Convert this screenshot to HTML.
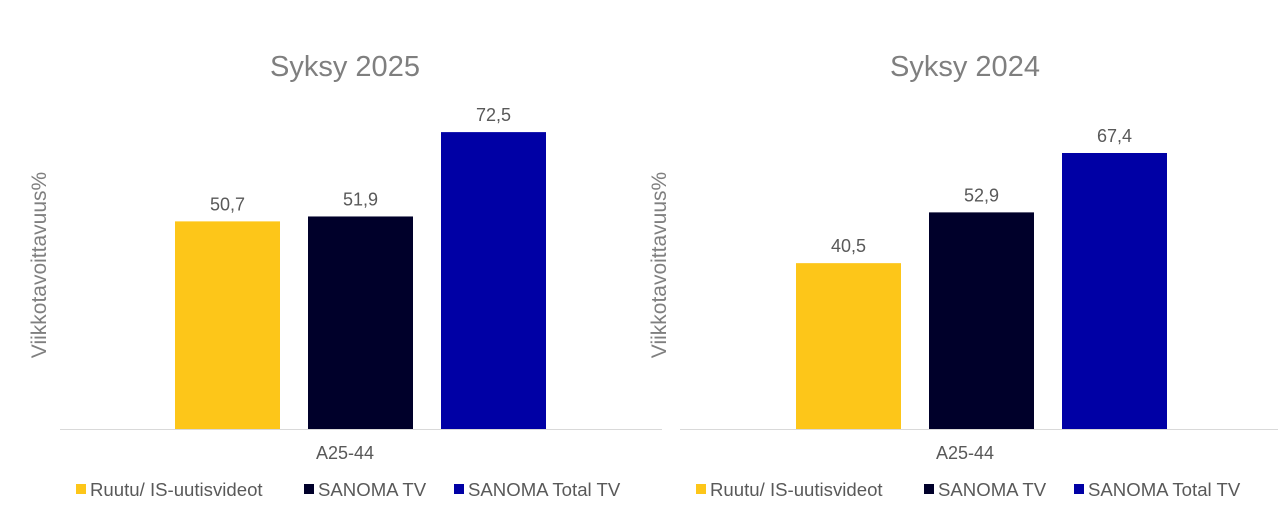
<!DOCTYPE html>
<html><head><meta charset="utf-8"><style>
body{margin:0;background:#fff;}
svg{display:block;font-family:"Liberation Sans",sans-serif;}
</style></head><body>
<svg id="c" width="1280" height="524"></svg>
<script>
const categories=["A25-44"];
const seriesNames=["Ruutu/ IS-uutisvideot","SANOMA TV","SANOMA Total TV"];
const seriesColors=["#FDC619","#00002A","#0000A5"];
const titles=["Syksy 2025","Syksy 2024"];
const values2025=[50.7,51.9,72.5];
const values2024=[40.5,52.9,67.4];
const valueLabels2025=["50,7","51,9","72,5"];
const valueLabels2024=["40,5","52,9","67,4"];

const NS="http://www.w3.org/2000/svg";
const svg=document.getElementById('c');
function mk(t,a,txt){const e=document.createElementNS(NS,t);for(const k in a)e.setAttribute(k,a[k]);if(txt!=null)e.textContent=txt;svg.appendChild(e);return e;}
const baseY=429, pxPerUnit=4.095;
function yScale(v){return baseY-v*pxPerUnit;}
const panels=[{off:0,vals:values2025,labs:valueLabels2025,x0:60,x1:662,bar0:175,cx:345},
              {off:620,vals:values2024,labs:valueLabels2024,x0:680,x1:1278,bar0:796,cx:965}];
panels.forEach((p,pi)=>{
  let e=mk('text',{x:p.cx,y:76,'text-anchor':'middle','font-size':29,fill:'#7f7f7f'},titles[pi]);
  
  
  const ax=46+p.off;
  e=mk('text',{x:ax,y:265,'text-anchor':'middle','font-size':21,fill:'#7f7f7f',transform:`rotate(-90 ${ax} 265)`},'Viikkotavoittavuus%');
  
  
  p.vals.forEach((v,i)=>{
    const x=p.bar0+i*133, w=105, y=yScale(v);
    let r=mk('rect',{x:x,y:y,width:w,height:baseY-y,fill:seriesColors[i]});
    
    
    let t=mk('text',{x:x+w/2,y:y-11,'text-anchor':'middle','font-size':18,fill:'#595959'},p.labs[i]);
    
    
  });
  e=mk('line',{x1:p.x0,x2:p.x1,y1:baseY+0.5,y2:baseY+0.5,stroke:'#d9d9d9','stroke-width':1});
  
  
  e=mk('text',{x:p.cx,y:459,'text-anchor':'middle','font-size':18,fill:'#595959'},categories[0]);
  
  
  const lx=[76,304,454];
  seriesNames.forEach((n,i)=>{
    let s=mk('rect',{x:lx[i]+p.off,y:484,width:10,height:10,fill:seriesColors[i]});
    
    
    let t=mk('text',{x:lx[i]+p.off+14,y:496,'font-size':18.6,fill:'#595959'},n);
    
    
  });
});
</script>
</body></html>
